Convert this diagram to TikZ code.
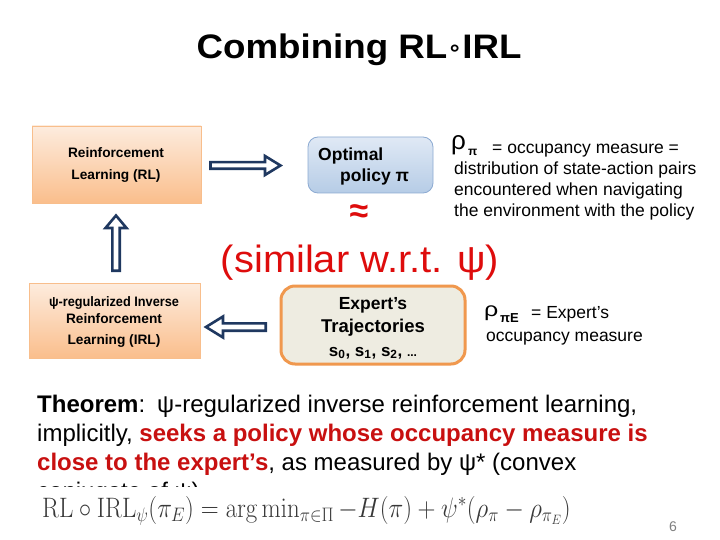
\documentclass[tikz,border=0pt]{standalone}
\usepackage[no-math]{fontspec}
\setmainfont{Liberation Sans}
\newfontfamily\dejavu{DejaVu Sans}
\definecolor{navy}{RGB}{31,56,96}
\definecolor{orTop}{RGB}{253,236,222}
\definecolor{orBot}{RGB}{250,190,140}
\definecolor{orLine}{RGB}{248,190,140}
\definecolor{blTop}{RGB}{224,233,245}
\definecolor{blBot}{RGB}{182,204,230}
\definecolor{blLine}{RGB}{140,170,210}
\definecolor{expFill}{RGB}{238,236,225}
\definecolor{expLine}{RGB}{240,152,78}
\definecolor{simred}{RGB}{222,12,12}
\definecolor{thred}{RGB}{200,16,16}
\newcommand{\fsz}[1]{\fontsize{#1}{#1}\selectfont}
\begin{document}
\begin{tikzpicture}[x=1pt,y=-1pt,
  orbox/.style={draw=orLine, line width=0.8pt, top color=orTop, bottom color=orBot, inner sep=0pt},
  bluebox/.style={draw=blLine, line width=0.8pt, rounded corners=10pt, top color=blTop, bottom color=blBot, inner sep=0pt},
  expbox/.style={draw=expLine, line width=3pt, rounded corners=14pt, fill=expFill, inner sep=0pt},
  hollow/.style={draw=navy, line width=2.6pt, fill=white, line join=miter},
  smalltxt/.style={font=\fsz{13.7}\bfseries, anchor=base, inner sep=0pt},
  midtxt/.style={font=\fsz{17.5}\bfseries, inner sep=0pt},
  sidetxt/.style={font=\fsz{17.5}, anchor=base west, inner sep=0pt},
  thtxt/.style={font=\fsz{24}, anchor=base west, inner sep=0pt}
]
\useasboundingbox (0,0) rectangle (720,540);
\fill[white] (0,0) rectangle (720,540);

% title
\node[anchor=base, inner sep=0pt, font=\fsz{34}\bfseries, xscale=1.08] (title) at (359,59)
  {Combining RL{\dejavu\fsz{22}\raisebox{3pt}{∘}}IRL};

% RL box
\node[orbox, minimum width=169pt, minimum height=77pt] (rl) at (116.5,164.5) {};
\node[smalltxt] (rl1) at (116,158) {Reinforcement};
\node[smalltxt] (rl2) at (116,180) {Learning (RL)};

% optimal policy box
\node[bluebox, minimum width=125pt, minimum height=56pt] (opt) at (370.5,165) {};
\node[midtxt, anchor=base west] (opt1) at (318,161) {Optimal};
\node[midtxt, anchor=base west] (opt2) at (340,182) {policy π};

% approx
\node[inner sep=0pt, font=\fsz{34}\bfseries, text=simred] (approx) at (359,214) {≈};

% rho pi text
\node[anchor=base west, inner sep=0pt, font=\fsz{26}] (rho1) at (451,150) {ρ};
\node[anchor=base west, inner sep=0pt, font=\fsz{12}\bfseries] (rho1s) at (468,156) {π};
\node[sidetxt] (s1) at (492,154) {= occupancy measure =};
\node[sidetxt] (s2) at (454,174.5) {distribution of state-action pairs};
\node[sidetxt] (s3) at (454,195.5) {encountered when navigating};
\node[sidetxt] (s4) at (454,217) {the environment with the policy};

% similar
\node[anchor=base, inner sep=0pt, font=\fsz{38}, text=simred, xscale=1.05] (sim) at (360,272) {(similar w.r.t. ψ)};

% IRL box
\node[orbox, minimum width=171pt, minimum height=75pt] (irl) at (114.5,320.5) {};
\node[smalltxt, xscale=0.93] (irl1) at (114,306) {ψ-regularized Inverse};
\node[smalltxt] (irl2) at (114,323) {Reinforcement};
\node[smalltxt] (irl3) at (114,344) {Learning (IRL)};

% expert box
\node[expbox, minimum width=184pt, minimum height=78pt] (exp) at (373,325) {};
\node[midtxt, anchor=base] (e1) at (373,309) {Expert’s};
\node[midtxt, anchor=base, font=\fsz{18.5}\bfseries] (e2) at (373,332) {Trajectories};
\node[midtxt, anchor=base, font=\fsz{17}\bfseries] (e3) at (373,356)
  {s\textsubscript{0}, s\textsubscript{1}, s\textsubscript{2}, \fsz{12}...};

% rho piE text
\node[anchor=base west, inner sep=0pt, font=\fsz{25}, yscale=0.8] (rho2) at (484,316) {ρ};
\node[anchor=base west, inner sep=0pt, font=\fsz{13}\bfseries] (rho2s) at (500,322) {πE};
\node[sidetxt] (t1) at (531,318) {= Expert’s};
\node[sidetxt] (t2) at (486,341) {occupancy measure};

% hollow arrows
\path[hollow] (210.5,162.2) -- (265,162.2) -- (265,156) -- (280.5,165.5) -- (265,175) -- (265,168.8) -- (210.5,168.8) -- cycle;
\path[hollow] (112.3,270.7) -- (112.3,228) -- (105.5,228) -- (116,215.5) -- (126.5,228) -- (119.7,228) -- (119.7,270.7) -- cycle;
\path[hollow] (265.7,323.3) -- (223,323.3) -- (223,316.5) -- (206,327) -- (223,337.5) -- (223,330.7) -- (265.7,330.7) -- cycle;

% theorem
\node[thtxt] (th1) at (37,412) {\textbf{Theorem}:\hspace{0.5em}ψ-regularized inverse reinforcement learning,};
\node[thtxt] (th2) at (37,441) {implicitly, \textcolor{thred}{\textbf{seeks a policy whose occupancy measure is}}};
\node[thtxt] (th3) at (37,470) {\textcolor{thred}{\textbf{close to the expert’s}}, as measured by ψ* (convex};
\node[thtxt] (th4) at (37,499) {conjugate of ψ)};
\fill[white] (0,486.5) rectangle (720,540);

% equation
\node[anchor=base west, inner sep=0pt, text=black!78, font=\fsz{24}, yscale=1.13] (eq) at (42,517)
  {$\mathrm{RL}\circ\mathrm{IRL}_{\psi}(\pi_E) = \arg\min_{\pi\in\Pi} -H(\pi) + \psi^*(\rho_\pi - \rho_{\pi_E})$};

% page number
\node[inner sep=0pt, font=\fsz{14}, text=black!50] (pg) at (673,527) {6};
\end{tikzpicture}
\end{document}
